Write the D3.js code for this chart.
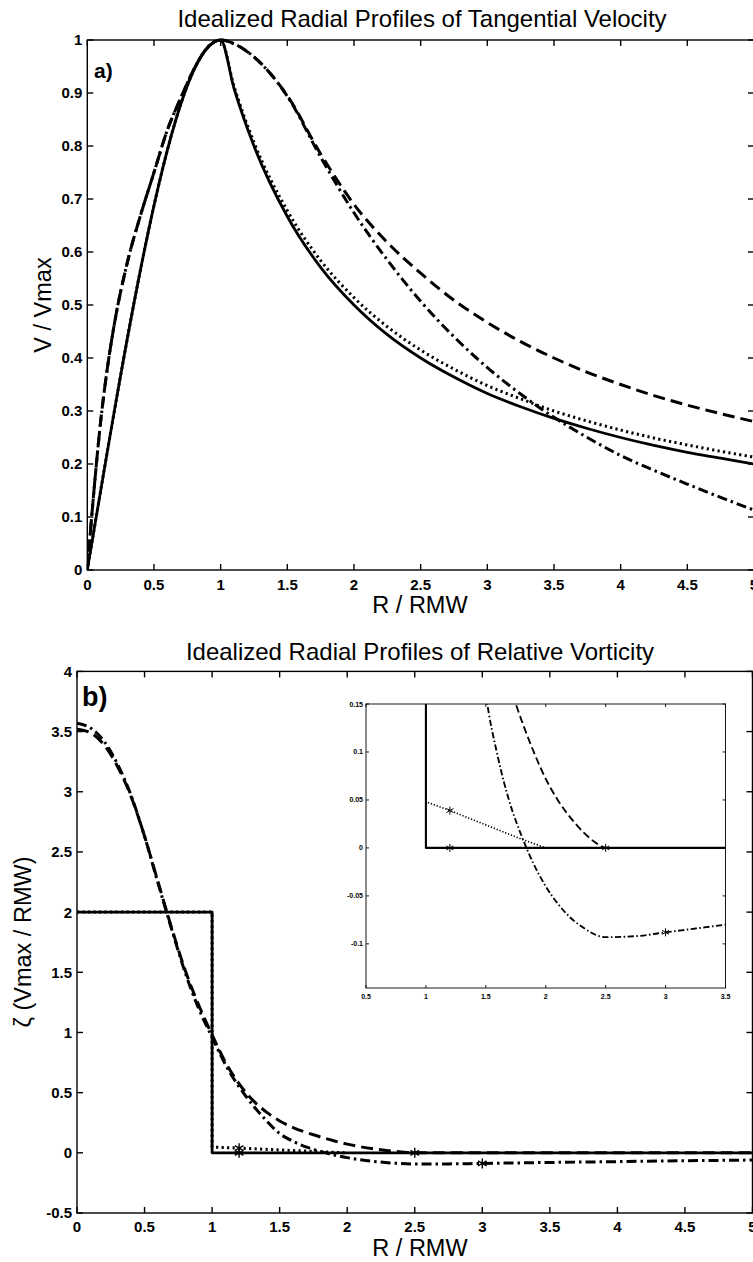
<!DOCTYPE html>
<html><head><meta charset="utf-8">
<script src="https://cdn.jsdelivr.net/npm/d3@7"></script>
<style>
html,body{margin:0;padding:0;background:#fff;}
svg{display:block;}
text{font-family:"Liberation Sans",Arial,sans-serif;fill:#000;}
</style></head>
<body>
<svg id="chart" width="753" height="1262"></svg>
<script>
// ---------------- DATA ----------------
// Panel a: tangential velocity V/Vmax vs R/RMW
const rInnerLin = [0, 1];
const vInnerLin = [0, 1];
const rInnerSmooth = [0, 0.05, 0.1, 0.15, 0.2, 0.3, 0.4, 0.5, 0.6, 0.7, 0.8, 0.9, 1.0];
const vInnerSmooth = [0, 0.15, 0.28, 0.38, 0.46, 0.58, 0.67, 0.75, 0.83, 0.89, 0.945, 0.985, 1.0];
const rOuter = [1, 1.1, 1.25, 1.5, 1.75, 2, 2.25, 2.5, 2.75, 3, 3.25, 3.5, 3.75, 4, 4.25, 4.5, 4.75, 5];
const vSolidOuter   = [1, 0.909, 0.8, 0.667, 0.571, 0.5, 0.444, 0.4, 0.364, 0.333, 0.308, 0.286, 0.267, 0.25, 0.235, 0.222, 0.211, 0.2];
const vDottedOuter  = [1, 0.913, 0.807, 0.678, 0.584, 0.514, 0.459, 0.415, 0.379, 0.348, 0.323, 0.300, 0.281, 0.264, 0.249, 0.236, 0.224, 0.213];
const vDashedOuter  = [1, 0.993, 0.968, 0.895, 0.785, 0.69, 0.618, 0.56, 0.509, 0.467, 0.431, 0.40, 0.373, 0.35, 0.329, 0.311, 0.295, 0.28];
const vDashDotOuter = [1, 0.993, 0.968, 0.894, 0.779, 0.674, 0.585, 0.507, 0.44, 0.382, 0.332, 0.288, 0.25, 0.216, 0.188, 0.162, 0.137, 0.113];

// Panel b: relative vorticity
const rRankineZ = [0, 1, 1, 5];
const zRankine  = [2, 2, 0, 0];
const rDottedZ = [0, 1, 1, 1.2, 1.4, 1.6, 1.8, 2.0];
const zDotted  = [2, 2, 0.048, 0.039, 0.029, 0.019, 0.009, 0];
const rDashedZ = [0, 0.1, 0.2, 0.3, 0.4, 0.5, 0.6, 0.7, 0.8, 0.9, 1.0, 1.1, 1.25, 1.4, 1.5, 1.6, 1.75, 1.9, 2.0, 2.1, 2.25, 2.4, 2.5, 3, 3.5, 4, 4.5, 5];
const zDashed  = [3.52, 3.49, 3.39, 3.21, 2.96, 2.63, 2.25, 1.87, 1.52, 1.23, 0.98, 0.75, 0.5, 0.34, 0.265, 0.21, 0.15, 0.1, 0.072, 0.05, 0.025, 0.007, 0, 0, 0, 0, 0, 0];
const rDashDotZ = [0, 0.1, 0.2, 0.3, 0.4, 0.5, 0.6, 0.7, 0.8, 0.9, 1.0, 1.1, 1.25, 1.4, 1.5, 1.6, 1.7, 1.8, 1.9, 2.0, 2.1, 2.2, 2.3, 2.5, 2.75, 3.0, 3.25, 3.5, 4, 4.5, 5];
const zDashDot  = [3.57, 3.53, 3.42, 3.23, 2.97, 2.63, 2.24, 1.86, 1.5, 1.2, 0.96, 0.73, 0.47, 0.27, 0.16, 0.095, 0.047, 0.012, -0.017, -0.04, -0.058, -0.072, -0.082, -0.093, -0.092, -0.088, -0.084, -0.080, -0.073, -0.066, -0.06];
const starR = [1.2, 1.2, 2.5, 3.0];
const starZ = [0.039, 0, 0, -0.088];

// Tick labels
const xTicksMain = [0, 0.5, 1, 1.5, 2, 2.5, 3, 3.5, 4, 4.5, 5];
const yTicksA = [0, 0.1, 0.2, 0.3, 0.4, 0.5, 0.6, 0.7, 0.8, 0.9, 1];
const yTicksB = [-0.5, 0, 0.5, 1, 1.5, 2, 2.5, 3, 3.5, 4];
const xTicksInset = [0.5, 1, 1.5, 2, 2.5, 3, 3.5];
const yTicksInset = [-0.1, -0.05, 0, 0.05, 0.1, 0.15];

const titleA = "Idealized Radial Profiles of Tangential Velocity";
const titleB = "Idealized Radial Profiles of Relative Vorticity";

// ---------------- DRAWING ----------------
const svg = d3.select("#chart");
const zip = (xs, ys) => xs.map((x, i) => [x, ys[i]]);

const styles = {
  solid:   {dash: null, w: 2.8},
  dotted:  {dash: "2.2,3.3", w: 3},
  dashed:  {dash: "12,6", w: 3},
  dashdot: {dash: "10,4,2.5,4", w: 3}
};

function frame(g, x, y, xt, yt, opts) {
  const [x0, x1] = x.range(), [y0, y1] = y.range();
  const tl = opts.tick;
  g.append("rect").attr("x", x0).attr("y", y1).attr("width", x1 - x0).attr("height", y0 - y1)
    .attr("fill", "none").attr("stroke", "#000").attr("stroke-width", opts.axisW);
  xt.forEach(t => {
    const px = x(t);
    g.append("line").attr("x1", px).attr("x2", px).attr("y1", y0).attr("y2", y0 - tl).attr("stroke", "#000").attr("stroke-width", opts.axisW);
    g.append("line").attr("x1", px).attr("x2", px).attr("y1", y1).attr("y2", y1 + tl).attr("stroke", "#000").attr("stroke-width", opts.axisW);
    g.append("text").attr("x", px).attr("y", y0 + opts.xlabOff).attr("text-anchor", "middle")
      .attr("font-size", opts.fs).attr("font-weight", "bold").text(opts.fmt(t));
  });
  yt.forEach(t => {
    const py = y(t);
    g.append("line").attr("x1", x0).attr("x2", x0 + tl).attr("y1", py).attr("y2", py).attr("stroke", "#000").attr("stroke-width", opts.axisW);
    g.append("line").attr("x1", x1).attr("x2", x1 - tl).attr("y1", py).attr("y2", py).attr("stroke", "#000").attr("stroke-width", opts.axisW);
    g.append("text").attr("x", x0 - opts.ylabOff).attr("y", py).attr("dy", "0.36em").attr("text-anchor", "end")
      .attr("font-size", opts.fs).attr("font-weight", "bold").text(opts.fmt(t));
  });
}

function drawLine(g, x, y, data, st, scale, curve) {
  const line = d3.line().x(d => x(d[0])).y(d => y(d[1])).curve(curve || d3.curveLinear);
  const p = g.append("path").attr("d", line(data)).attr("fill", "none").attr("stroke", "#000")
    .attr("stroke-width", st.w * scale).attr("stroke-linejoin", "round");
  if (st.dash) p.attr("stroke-dasharray", st.dash.split(",").map(v => +v * scale).join(","));
}

const fmt = d => String(d);

// ---------- Panel a ----------
const xA = d3.scaleLinear().domain([0, 5]).range([87.3, 754]);
const yA = d3.scaleLinear().domain([0, 1]).range([570, 40]);
const gA = svg.append("g");
svg.append("defs").append("clipPath").attr("id", "clipA").append("rect")
  .attr("x", 87.3).attr("y", 38).attr("width", 667).attr("height", 533);
const cA = gA.append("g").attr("clip-path", "url(#clipA)");

const solidA = zip(rInnerLin, vInnerLin).concat(zip(rOuter, vSolidOuter).slice(1));
const dottedA = zip(rInnerLin, vInnerLin).concat(zip(rOuter, vDottedOuter).slice(1));
const dashedA = zip(rInnerSmooth, vInnerSmooth).concat(zip(rOuter, vDashedOuter).slice(1));
const dashdotA = zip(rInnerSmooth, vInnerSmooth).concat(zip(rOuter, vDashDotOuter).slice(1));

drawLine(cA, xA, yA, dashdotA, styles.dashdot, 1, d3.curveMonotoneX);
drawLine(cA, xA, yA, dashedA, styles.dashed, 1, d3.curveMonotoneX);
drawLine(cA, xA, yA, dottedA, styles.dotted, 1, d3.curveMonotoneX);
drawLine(cA, xA, yA, solidA, styles.solid, 1, d3.curveMonotoneX);

frame(gA, xA, yA, xTicksMain, yTicksA, {tick: 6, axisW: 1.4, fs: 15, xlabOff: 20, ylabOff: 5, fmt});
gA.append("text").attr("x", 422).attr("y", 27).attr("text-anchor", "middle").attr("font-size", 24).text(titleA);
gA.append("text").attr("x", 420).attr("y", 613).attr("text-anchor", "middle").attr("font-size", 23.5).text("R / RMW");
gA.append("text").attr("transform", "translate(51,305) rotate(-90)").attr("text-anchor", "middle").attr("font-size", 23.5).text("V / Vmax");
gA.append("text").attr("x", 94).attr("y", 78).attr("font-size", 21).attr("font-weight", "bold").text("a)");

// ---------- Panel b ----------
const xB = d3.scaleLinear().domain([0, 5]).range([77, 752.5]);
const yB = d3.scaleLinear().domain([-0.5, 4]).range([1213, 671.4]);
const gB = svg.append("g");
svg.select("defs").append("clipPath").attr("id", "clipB").append("rect")
  .attr("x", 77).attr("y", 669).attr("width", 676).attr("height", 546);
const cB = gB.append("g").attr("clip-path", "url(#clipB)");

drawLine(cB, xB, yB, zip(rDashDotZ, zDashDot), styles.dashdot, 1, d3.curveMonotoneX);
drawLine(cB, xB, yB, zip(rDashedZ, zDashed), styles.dashed, 1, d3.curveMonotoneX);
drawLine(cB, xB, yB, zip(rDottedZ, zDotted), styles.dotted, 1);
drawLine(cB, xB, yB, zip(rRankineZ, zRankine), styles.solid, 1);

const star = d3.symbol().type(d3.symbolAsterisk);
cB.selectAll(".st").data(zip(starR, starZ)).enter().append("path")
  .attr("transform", d => `translate(${xB(d[0])},${yB(d[1])})`)
  .attr("d", star.size(70)()).attr("fill", "none").attr("stroke", "#000").attr("stroke-width", 1.4);

frame(gB, xB, yB, xTicksMain, yTicksB, {tick: 6, axisW: 1.4, fs: 15, xlabOff: 19, ylabOff: 5, fmt});
gB.append("text").attr("x", 420).attr("y", 660).attr("text-anchor", "middle").attr("font-size", 24).text(titleB);
gB.append("text").attr("x", 420).attr("y", 1256).attr("text-anchor", "middle").attr("font-size", 23.5).text("R / RMW");
gB.append("text").attr("transform", "translate(31,942) rotate(-90)").attr("text-anchor", "middle").attr("font-size", 23.5).text("ζ (Vmax / RMW)");
gB.append("text").attr("x", 82).attr("y", 706).attr("font-size", 27).attr("font-weight", "bold").text("b)");

// ---------- Inset ----------
const xI = d3.scaleLinear().domain([0.5, 3.5]).range([366, 725.5]);
const yI = d3.scaleLinear().domain([-0.146, 0.15]).range([988, 704]);
const gI = svg.append("g");
gI.append("rect").attr("x", 366).attr("y", 704).attr("width", 359.5).attr("height", 284).attr("fill", "#fff");
svg.select("defs").append("clipPath").attr("id", "clipI").append("rect")
  .attr("x", 366).attr("y", 704).attr("width", 359.5).attr("height", 284);
const cI = gI.append("g").attr("clip-path", "url(#clipI)");
const s = 0.62;
drawLine(cI, xI, yI, zip(rDashDotZ, zDashDot), styles.dashdot, s, d3.curveMonotoneX);
drawLine(cI, xI, yI, zip(rDashedZ, zDashed), styles.dashed, s, d3.curveMonotoneX);
drawLine(cI, xI, yI, zip(rDottedZ, zDotted), styles.dotted, s * 0.9);
drawLine(cI, xI, yI, zip(rRankineZ, zRankine), styles.solid, 0.75);
cI.selectAll(".st").data(zip(starR, starZ)).enter().append("path")
  .attr("transform", d => `translate(${xI(d[0])},${yI(d[1])})`)
  .attr("d", star.size(45)()).attr("fill", "none").attr("stroke", "#000").attr("stroke-width", 1);
frame(gI, xI, yI, xTicksInset, yTicksInset, {tick: 3, axisW: 0.9, fs: 7, xlabOff: 11, ylabOff: 3, fmt});
</script>
</body></html>
